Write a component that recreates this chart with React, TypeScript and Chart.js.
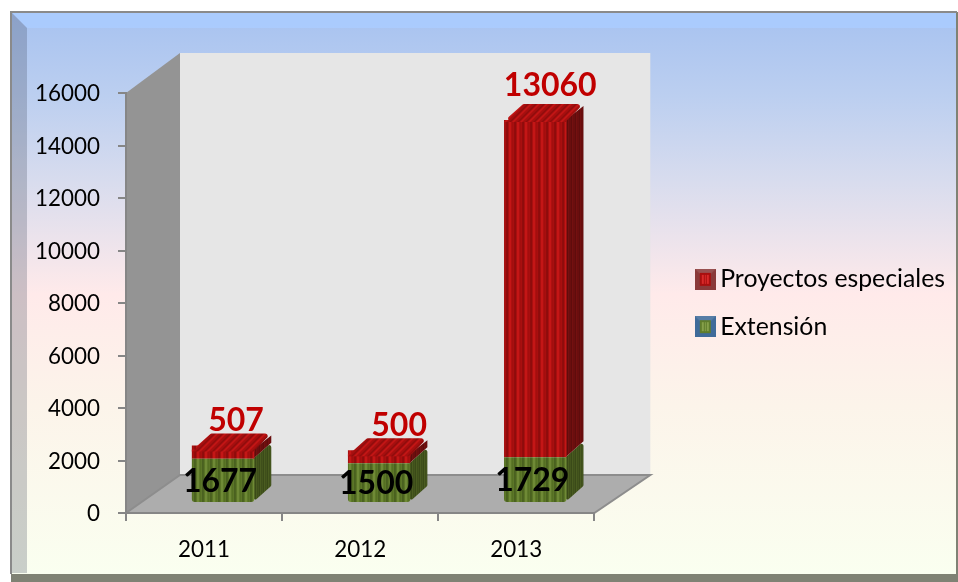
import React, { useEffect, useRef } from "react";
import { Chart, registerables } from "chart.js";

Chart.register(...registerables);

const categories = ["2011", "2012", "2013"];
const extension = [1677, 1500, 1729];
const proyectos = [507, 500, 13060];
const seriesNames = ["Extensión", "Proyectos especiales"];
const FONT = "Lato";

function stripes(colors: string[], skew = 0): CanvasPattern | string {
  const c = document.createElement("canvas");
  c.width = colors.length;
  c.height = 1;
  const g = c.getContext("2d")!;
  colors.forEach((col, i) => {
    g.fillStyle = col;
    g.fillRect(i, 0, 1, 1);
  });
  const p = g.createPattern(c, "repeat")!;
  if (skew) p.setTransform(new DOMMatrix([1, 0, skew, 1, 0, 0]));
  return p;
}

const redStripe = ["#8e0c0c", "#a80f0f", "#c41616", "#c41616", "#ad1010", "#a30e0e", "#a80f0f", "#920c0c"];
const greenStripe = ["#4c6420", "#5a7426", "#6f8a36", "#6f8a36", "#5d7829", "#557022", "#5c7628", "#4a6120"];
const redSide = ["#5f0c0c", "#741010", "#6a0e0e", "#6a0e0e"];
const greenSide = ["#3a4a18", "#4a5c20", "#3f4f1b", "#44551d"];

function swatch(border: string, fill: string, mark: string) {
  const c = document.createElement("canvas");
  c.width = 21;
  c.height = 21;
  const g = c.getContext("2d")!;
  g.fillStyle = border;
  g.fillRect(0, 0, 21, 21);
  g.fillStyle = "rgba(255,255,255,0.12)";
  g.beginPath();
  g.moveTo(0, 0);
  g.lineTo(21, 0);
  g.lineTo(16, 5);
  g.lineTo(5, 5);
  g.closePath();
  g.fill();
  g.fillStyle = fill;
  g.fillRect(5, 4, 11, 13);
  g.fillStyle = mark;
  g.fillRect(7, 6, 2, 9);
  g.fillRect(10, 6, 1, 9);
  g.fillRect(12, 6, 2, 9);
  return c;
}

function roundPoly(ctx: CanvasRenderingContext2D, pts: number[][], r: number) {
  const n = pts.length;
  ctx.beginPath();
  const s = [(pts[n - 1][0] + pts[0][0]) / 2, (pts[n - 1][1] + pts[0][1]) / 2];
  ctx.moveTo(s[0], s[1]);
  for (let i = 0; i < n; i++) {
    const p = pts[i];
    const q = pts[(i + 1) % n];
    ctx.arcTo(p[0], p[1], q[0], q[1], r);
  }
  ctx.closePath();
}

const depth = { x: 17, y: -16 };
const shift = { x: 19, y: -11 };
const labelNudgeX = [0, 7, 2];

const sinkOf = (el: any) => (el.y + shift.y < 200 ? 0 : 4);

const scene = {
  id: "scene",
  beforeDraw(chart: any) {
    const ctx = chart.ctx as CanvasRenderingContext2D;
    const W = 958;
    const { left: l, right: r, top: t, bottom: b } = chart.chartArea;
    const dx = 54, dyTop = -40, dy = -38;
    ctx.save();
    const grad = ctx.createLinearGradient(0, 13, 0, 575);
    grad.addColorStop(0, "#a7c2f0");
    grad.addColorStop(0.15, "#bccff0");
    grad.addColorStop(0.3, "#d8dcee");
    grad.addColorStop(0.5, "#ffeaea");
    grad.addColorStop(0.7, "#fcf4ea");
    grad.addColorStop(1, "#fafff0");
    ctx.fillStyle = grad;
    ctx.fillRect(11, 12, W - 13, 562);
    // bevel bands
    ctx.fillStyle = "rgba(170,205,255,0.85)";
    ctx.beginPath();
    ctx.moveTo(11, 12);
    ctx.lineTo(W - 2, 12);
    ctx.lineTo(W - 2, 28);
    ctx.lineTo(27, 28);
    ctx.closePath();
    ctx.fill();
    ctx.fillStyle = "rgba(60,70,90,0.26)";
    ctx.beginPath();
    ctx.moveTo(11, 12);
    ctx.lineTo(27, 28);
    ctx.lineTo(27, 573);
    ctx.lineTo(11, 573);
    ctx.closePath();
    ctx.fill();
    ctx.fillStyle = "#7f8274";
    ctx.fillRect(11, 574, W - 11, 8);
    ctx.fillRect(W - 2, 12, 2, 562);
    ctx.strokeStyle = "#8a8a8a";
    ctx.lineWidth = 2;
    ctx.beginPath();
    ctx.moveTo(11, 574);
    ctx.lineTo(11, 12);
    ctx.lineTo(W - 1, 12);
    ctx.stroke();
    // back wall
    ctx.fillStyle = "#e6e6e6";
    ctx.fillRect(l + dx, t + dyTop, r - l + 2, b + dy - t - dyTop);
    // side wall
    ctx.fillStyle = "#949494";
    ctx.beginPath();
    ctx.moveTo(l, t);
    ctx.lineTo(l + dx, t + dyTop);
    ctx.lineTo(l + dx, b + dy);
    ctx.lineTo(l, b);
    ctx.closePath();
    ctx.fill();
    // floor
    ctx.fillStyle = "#adadad";
    ctx.strokeStyle = "#8d8d8d";
    ctx.lineWidth = 2;
    ctx.beginPath();
    ctx.moveTo(l, b);
    ctx.lineTo(l + dx, b + dy);
    ctx.lineTo(r + dx + 2, b + dy);
    ctx.lineTo(r, b);
    ctx.closePath();
    ctx.fill();
    ctx.stroke();
    ctx.restore();
  },
  beforeDatasetsDraw(chart: any) {
    const ctx = chart.ctx as CanvasRenderingContext2D;
    ctx.save();
    ctx.translate(shift.x, shift.y);
    const sides = [stripes(greenSide), stripes(redSide)];
    chart.data.datasets.forEach((_: any, di: number) => {
      chart.getDatasetMeta(di).data.forEach((el: any) => {
        const R = el.x + el.width / 2;
        const sink = di === 1 ? sinkOf(el) : 0;
        const cap = di === 1 ? 2 : 0;
        ctx.fillStyle = sides[di];
        roundPoly(ctx, [
          [R - 1, el.y + sink],
          [R + depth.x, el.y + sink + depth.y + cap],
          [R + depth.x, el.base + depth.y],
          [R - 1, el.base],
        ], di === 0 ? 2 : 0.01);
        ctx.fill();
      });
    });
  },
  afterDatasetsDraw(chart: any) {
    const ctx = chart.ctx as CanvasRenderingContext2D;
    // top faces of the stacks, above the front faces
    const top = stripes(redStripe, -1);
    chart.getDatasetMeta(1).data.forEach((el: any) => {
      const R = el.x + el.width / 2;
      const L = el.x - el.width / 2;
      const y = el.y + sinkOf(el);
      ctx.fillStyle = top;
      roundPoly(ctx, [
        [L, y + 1],
        [L + depth.x + 2, y + depth.y],
        [R + depth.x, y + depth.y],
        [R, y + 1],
      ], 2.5);
      ctx.fill();
      ctx.fillRect(L, y, el.width, 2);
    });
    ctx.restore();
    ctx.save();
    ctx.textAlign = "center";
    ctx.textBaseline = "middle";
    ctx.font = `bold 32px ${FONT}`;
    chart.getDatasetMeta(1).data.forEach((el: any, i: number) => {
      ctx.fillStyle = "#c00000";
      const lift = el.y + shift.y < 200 ? 34 : 25;
      ctx.fillText(String(proyectos[i]), el.x + shift.x + 13 + labelNudgeX[i], el.y + shift.y - lift);
    });
    chart.getDatasetMeta(0).data.forEach((el: any, i: number) => {
      ctx.fillStyle = "#000000";
      ctx.fillText(String(extension[i]), el.x + shift.x - 3, (el.y + el.base) / 2 + shift.y + 1);
    });
    ctx.restore();
  },
};

export default function App() {
  const ref = useRef<HTMLCanvasElement>(null);
  useEffect(() => {
    document.body.style.margin = "0";
    const swatches = [
      swatch("#3f6b9a", "#5f7c2c", "#86a04a"),
      swatch("#8a3a3a", "#a80f0f", "#d82a2a"),
    ];
    const axisColor = "#868686";
    const chart = new Chart(ref.current!, {
      type: "bar",
      data: {
        labels: categories,
        datasets: [
          {
            label: seriesNames[0],
            data: extension,
            backgroundColor: stripes(greenStripe),
            yAxisID: "y1",
            clip: false,
            borderRadius: { bottomLeft: 3, bottomRight: 3, topLeft: 0, topRight: 0 },
            borderSkipped: false,
          },
          {
            label: seriesNames[1],
            data: proyectos,
            backgroundColor: stripes(redStripe),
            yAxisID: "y1",
            clip: false,
            borderWidth: 0,
          },
        ] as any,
      },
      options: {
        animation: false,
        responsive: false,
        layout: { padding: { left: 35, top: 93, right: 3, bottom: 0 } },
        datasets: { bar: { categoryPercentage: 1, barPercentage: 0.4 } },
        scales: {
          x: {
            stacked: true,
            border: { color: axisColor, width: 2 },
            grid: { color: axisColor, lineWidth: 2, drawOnChartArea: false, tickLength: 8 },
            ticks: { color: "#000", padding: 15, font: { family: FONT, size: 22.4 } },
            afterFit: (s: any) => { s.height = 69; },
          },
          y: {
            min: 0,
            max: 16000,
            border: { color: axisColor, width: 2 },
            grid: { color: axisColor, lineWidth: 2, drawOnChartArea: false, tickLength: 8 },
            ticks: {
              color: "#000",
              stepSize: 2000,
              padding: 18,
              labelOffset: 1,
              font: { family: FONT, size: 22.4 },
              callback: (v: any) => String(v),
            },
            afterFit: (s: any) => { s.width = 91; },
          },
          y1: {
            position: "right",
            stacked: true,
            min: 0,
            max: 16260,
            grid: { display: false },
            border: { display: false },
            ticks: { display: false },
            afterFit: (s: any) => { s.width = 86; },
          },
        },
        plugins: {
          tooltip: { enabled: false },
          legend: {
            position: "right",
            fullSize: false,
            reverse: true,
            maxWidth: 275,
            labels: {
              usePointStyle: true,
              pointStyleWidth: 5,
              padding: 22.5,
              color: "#000",
              font: { family: FONT, size: 24.8 },
              generateLabels: (c: any) =>
                Chart.defaults.plugins.legend.labels
                  .generateLabels(c)
                  .map((it: any, i: number) => ({ ...it, pointStyle: swatches[i], lineWidth: 0 })),
            },
          },
        },
      } as any,
      plugins: [scene],
    });
    return () => chart.destroy();
  }, []);
  return <canvas ref={ref} width={958} height={582} style={{ display: "block" }} />;
}
